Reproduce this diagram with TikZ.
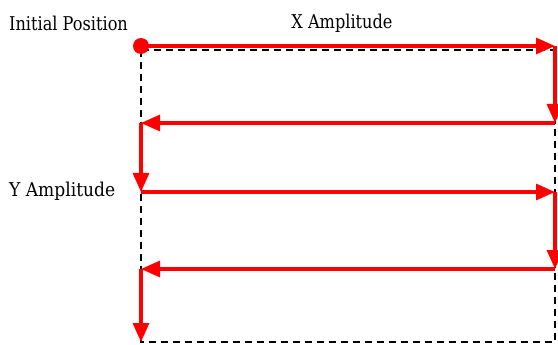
\documentclass[tikz,border=0pt]{standalone}
\usepackage{fontspec}
\setmainfont{DejaVu Serif}
\usetikzlibrary{arrows.meta}
\begin{document}
\begin{tikzpicture}[x=1pt,y=-1pt,
  redline/.style={draw=red,line width=3.2pt,-{Triangle[length=19pt,width=16pt]}},
  frame/.style={draw=black,line width=1.2pt,dash pattern=on 7pt off 5pt},
  lab/.style={font=\fontsize{19}{21}\selectfont,inner sep=0pt}]
\useasboundingbox (0,0) rectangle (558,345);
\draw[frame] (141,50) rectangle (555,342);
\coordinate (p0) at (141,46);
\coordinate (p1) at (555,46);
\coordinate (p2) at (555,123);
\coordinate (p3) at (141,123);
\coordinate (p4) at (141,192);
\coordinate (p5) at (555,192);
\coordinate (p6) at (555,269);
\coordinate (p7) at (141,269);
\coordinate (p8) at (141,342);
\draw[redline] (p0) -- (p1);
\draw[redline] (p1) -- (p2);
\draw[redline] (p2) -- (p3);
\draw[redline] (p3) -- (p4);
\draw[redline] (p4) -- (p5);
\draw[redline] (p5) -- (p6);
\draw[redline] (p6) -- (p7);
\draw[redline] (p7) -- (p8);
\fill[red] (p0) circle (8pt);
\node[lab,anchor=west,xscale=0.85] (ip) at (9,23) {Initial Position};
\node[lab,xscale=0.85] (xa) at (342,23) {X Amplitude};
\node[lab,anchor=west,xscale=0.9] (ya) at (9,191) {Y Amplitude};
\end{tikzpicture}
\end{document}
